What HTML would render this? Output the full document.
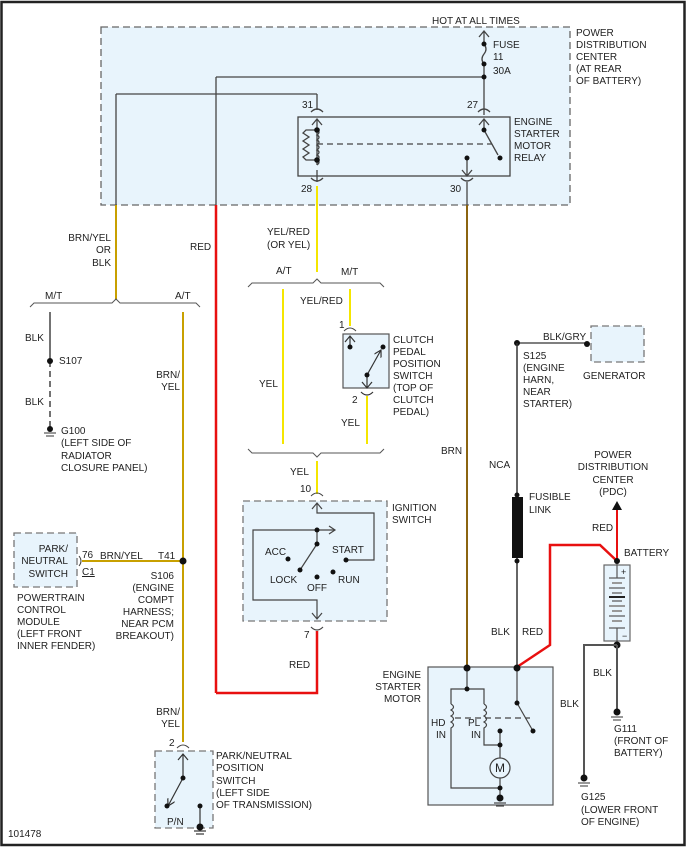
<!DOCTYPE html>
<html><head><meta charset="utf-8"><style>
html,body{margin:0;padding:0;background:#fff;}
svg{display:block;}
text{font-family:"Liberation Sans",sans-serif;font-size:10px;fill:#222;}
</style></head><body>
<svg width="690" height="852" viewBox="0 0 690 852" xmlns="http://www.w3.org/2000/svg">
<defs>
<marker id="ar" markerWidth="8" markerHeight="8" refX="7" refY="4" orient="auto" markerUnits="userSpaceOnUse"><path d="M0,0 L7,4 L0,8" fill="none" stroke="#333" stroke-width="1.2"/></marker>
</defs>
<rect x="1.5" y="2" width="683" height="843" fill="none" stroke="#222" stroke-width="2.5"/>

<!-- PDC box -->
<rect x="101" y="27" width="469" height="178" fill="#e8f4fc" stroke="#666" stroke-width="1.3" stroke-dasharray="7,4"/>
<text x="432" y="24">HOT AT ALL TIMES</text>
<g stroke="#444" stroke-width="1.3" fill="none">
<line x1="484" y1="32" x2="484" y2="44"/>
<path d="M479,37 L484,31 L489,37"/>
<path d="M484,44 q4,5 0,10 q-4,5 0,10"/>
<line x1="484" y1="64" x2="484" y2="115"/>
<line x1="216" y1="77" x2="484" y2="77"/>
<line x1="216" y1="77" x2="216" y2="205"/>
<line x1="116" y1="94" x2="317" y2="94"/>
<line x1="116" y1="94" x2="116" y2="205"/>
<line x1="317" y1="94" x2="317" y2="110"/>
<path d="M311,112 q6,-6 12,0"/><path d="M478,112 q6,-6 12,0"/>
<rect x="298" y="117" width="212" height="59" fill="none"/>
<line x1="317" y1="120" x2="317" y2="165"/>
<path d="M312,125 L317,119 L322,125"/>
<path d="M484,120 L484,130"/><path d="M479,125 L484,119 L489,125"/>
<path d="M317,130 H306 L303,133 L309,137 L303,141 L309,145 L303,149 L309,153 L303,157 L306,160 H317"/>
<path d="M317,130 q4,2 0,5 q4,2 0,5 q4,2 0,5 q4,2 0,5 q4,2 0,5 q4,2 0,5 q4,2 0,5"/>
<line x1="317" y1="144" x2="492" y2="144" stroke-dasharray="6,4"/>
<line x1="484" y1="130" x2="498" y2="155"/>
<line x1="467" y1="158" x2="467" y2="175"/><path d="M462,170 L467,176 L472,170"/>
<path d="M311,178 q6,6 12,0"/><path d="M461,178 q6,6 12,0"/>
<line x1="317" y1="170" x2="317" y2="182"/>
<line x1="467" y1="182" x2="467" y2="205"/>
</g>
<g fill="#111"><circle cx="484" cy="44" r="2.5"/><circle cx="484" cy="64" r="2.5"/><circle cx="484" cy="77" r="2.5"/><circle cx="317" cy="130" r="2.8"/><circle cx="317" cy="160" r="2.8"/><circle cx="484" cy="130" r="2.5"/><circle cx="500" cy="158" r="2.5"/><circle cx="467" cy="158" r="2.5"/></g>
<text x="493" y="48">FUSE</text><text x="493" y="60">11</text><text x="493" y="74">30A</text>
<text x="302" y="108">31</text><text x="467" y="108">27</text><text x="301" y="192">28</text><text x="450" y="192">30</text>
<text x="514" y="125">ENGINE</text><text x="514" y="137">STARTER</text><text x="514" y="149">MOTOR</text><text x="514" y="161">RELAY</text>
<text x="576" y="36">POWER</text><text x="576" y="48">DISTRIBUTION</text><text x="576" y="60">CENTER</text><text x="576" y="72">(AT REAR</text><text x="576" y="84">OF BATTERY)</text>

<!-- left wires -->
<line x1="116" y1="205" x2="116" y2="300" stroke="#c8a000" stroke-width="2"/>
<text x="111" y="241" text-anchor="end">BRN/YEL</text><text x="111" y="253" text-anchor="end">OR</text><text x="111" y="266" text-anchor="end">BLK</text>
<path d="M30,307 L34,303 H112 L116,299 L120,303 H196 L200,307" fill="none" stroke="#555" stroke-width="1"/>
<text x="45" y="299">M/T</text><text x="175" y="299">A/T</text>
<line x1="50" y1="312" x2="50" y2="361" stroke="#444" stroke-width="1.5"/>
<line x1="50" y1="361" x2="50" y2="428" stroke="#444" stroke-width="1.5" stroke-dasharray="6,4"/>
<circle cx="50" cy="361" r="3" fill="#111"/><circle cx="50" cy="429" r="3" fill="#111"/>
<line x1="44" y1="433" x2="56" y2="433" stroke="#333"/><line x1="46" y1="436" x2="54" y2="436" stroke="#333"/>
<text x="25" y="341">BLK</text><text x="59" y="364">S107</text><text x="25" y="405">BLK</text>
<text x="61" y="434">G100</text><text x="61" y="446">(LEFT SIDE OF</text><text x="61" y="459">RADIATOR</text><text x="61" y="471">CLOSURE PANEL)</text>

<line x1="183" y1="312" x2="183" y2="742" stroke="#c8a000" stroke-width="2"/>
<text x="180" y="378" text-anchor="end">BRN/</text><text x="180" y="390" text-anchor="end">YEL</text>
<line x1="216" y1="205" x2="216" y2="693" stroke="#e81010" stroke-width="2.5"/>
<text x="190" y="250">RED</text>
<polyline points="216,693 317,693 317,631" fill="none" stroke="#e81010" stroke-width="2.5"/>
<text x="289" y="668">RED</text>

<!-- PCM -->
<rect x="14" y="533" width="63" height="54" fill="#e8f4fc" stroke="#777" stroke-width="1.3" stroke-dasharray="7,4"/>
<text x="68" y="552" text-anchor="end">PARK/</text><text x="68" y="564" text-anchor="end">NEUTRAL</text><text x="68" y="577" text-anchor="end">SWITCH</text>
<line x1="82" y1="561" x2="183" y2="561" stroke="#c8a000" stroke-width="2"/>
<path d="M79,556 q4,5 0,10" fill="none" stroke="#444"/>
<circle cx="183" cy="561" r="3.5" fill="#111"/>
<text x="82" y="558">76</text><text x="100" y="559">BRN/YEL</text><text x="158" y="559">T41</text><text x="82" y="575" text-decoration="underline">C1</text>
<text x="174" y="579" text-anchor="end">S106</text><text x="174" y="591" text-anchor="end">(ENGINE</text><text x="174" y="603" text-anchor="end">COMPT</text><text x="174" y="615" text-anchor="end">HARNESS;</text><text x="174" y="627" text-anchor="end">NEAR PCM</text><text x="174" y="639" text-anchor="end">BREAKOUT)</text>
<text x="17" y="601">POWERTRAIN</text><text x="17" y="613">CONTROL</text><text x="17" y="625">MODULE</text><text x="17" y="637">(LEFT FRONT</text><text x="17" y="649">INNER FENDER)</text>

<!-- P/N switch -->
<text x="180" y="715" text-anchor="end">BRN/</text><text x="180" y="727" text-anchor="end">YEL</text>
<text x="169" y="746">2</text>
<path d="M177,748 q6,-6 12,0" fill="none" stroke="#444"/>
<rect x="155" y="751" width="58" height="77" fill="#e8f4fc" stroke="#777" stroke-width="1.3" stroke-dasharray="7,4"/>
<g stroke="#333" stroke-width="1.2" fill="none">
<line x1="183" y1="754" x2="183" y2="778"/><path d="M178,760 L183,754 L188,760"/>
<line x1="183" y1="778" x2="168" y2="806" marker-end="url(#ar)"/>
<line x1="200" y1="806" x2="200" y2="826"/>
<line x1="194" y1="831" x2="206" y2="831"/><line x1="196" y1="834" x2="204" y2="834"/>
</g>
<circle cx="183" cy="778" r="2.5" fill="#111"/><circle cx="167" cy="806" r="2.5" fill="#111"/><circle cx="200" cy="806" r="2.5" fill="#111"/><circle cx="200" cy="827" r="3.5" fill="#111"/>
<text x="167" y="825">P/N</text>
<text x="216" y="759">PARK/NEUTRAL</text><text x="216" y="771">POSITION</text><text x="216" y="784">SWITCH</text><text x="216" y="796">(LEFT SIDE</text><text x="216" y="808">OF TRANSMISSION)</text>
<text x="8" y="837">101478</text>

<!-- middle -->
<line x1="317" y1="186" x2="317" y2="272" stroke="#f5e600" stroke-width="2"/>
<text x="267" y="235">YEL/RED</text><text x="267" y="248">(OR YEL)</text>
<path d="M248,287 L252,283 H313 L317,279 L321,283 H380 L384,287" fill="none" stroke="#555"/>
<text x="276" y="274">A/T</text><text x="341" y="275">M/T</text>
<line x1="283" y1="289" x2="283" y2="444" stroke="#f5e600" stroke-width="2"/>
<text x="259" y="387">YEL</text>
<line x1="350" y1="289" x2="350" y2="326" stroke="#f5e600" stroke-width="2"/>
<text x="300" y="304">YEL/RED</text>
<text x="339" y="328">1</text>
<path d="M344,331 q6,-6 12,0" fill="none" stroke="#444"/>
<rect x="343" y="334" width="46" height="54" fill="#e8f4fc" stroke="#555" stroke-width="1.2"/>
<g stroke="#333" stroke-width="1.2" fill="none">
<line x1="350" y1="337" x2="350" y2="347"/><path d="M345,342 L350,336 L355,342"/>
<line x1="367" y1="375" x2="381" y2="350" marker-end="url(#ar)"/>
<line x1="367" y1="375" x2="367" y2="387"/><path d="M362,382 L367,388 L372,382"/>
<path d="M361,392 q6,6 12,0"/>
</g>
<circle cx="350" cy="347" r="2.5" fill="#111"/><circle cx="383" cy="347" r="2.5" fill="#111"/><circle cx="367" cy="375" r="2.5" fill="#111"/>
<text x="352" y="403">2</text>
<line x1="367" y1="396" x2="367" y2="444" stroke="#f5e600" stroke-width="2"/>
<text x="341" y="426">YEL</text>
<text x="393" y="343">CLUTCH</text><text x="393" y="355">PEDAL</text><text x="393" y="367">POSITION</text><text x="393" y="379">SWITCH</text><text x="393" y="391">(TOP OF</text><text x="393" y="403">CLUTCH</text><text x="393" y="415">PEDAL)</text>
<path d="M248,449 L252,453 H313 L317,457 L321,453 H380 L384,449" fill="none" stroke="#555"/>
<text x="290" y="475">YEL</text>
<line x1="317" y1="461" x2="317" y2="494" stroke="#f5e600" stroke-width="2"/>
<text x="300" y="492">10</text>
<path d="M311,496 q6,-6 12,0" fill="none" stroke="#444"/>

<!-- Ignition -->
<rect x="243" y="501" width="144" height="120" fill="#e8f4fc" stroke="#777" stroke-width="1.3" stroke-dasharray="7,4"/>
<text x="392" y="511">IGNITION</text><text x="392" y="523">SWITCH</text>
<g stroke="#444" stroke-width="1.2" fill="none">
<path d="M317,504 V513 H374 V560 H346"/><path d="M312,509 L317,503 L322,509"/>
<path d="M335,530 H253 V600 H317 V619"/><path d="M329,526 L335,530 L329,534"/><path d="M312,613 L317,619 L322,613"/>
<line x1="317" y1="530" x2="317" y2="544"/><line x1="317" y1="544" x2="300" y2="570"/>
<path d="M311,627 q6,6 12,0"/>
</g>
<g fill="#111"><circle cx="317" cy="530" r="2.5"/><circle cx="317" cy="544" r="2.5"/><circle cx="300" cy="570" r="2.5"/><circle cx="288" cy="559" r="2.5"/><circle cx="317" cy="577" r="2.5"/><circle cx="333" cy="572" r="2.5"/><circle cx="346" cy="560" r="2.5"/></g>
<text x="265" y="555">ACC</text><text x="332" y="553">START</text><text x="270" y="583">LOCK</text><text x="307" y="591">OFF</text><text x="338" y="583">RUN</text>
<text x="304" y="638">7</text>

<!-- right -->
<line x1="467" y1="205" x2="467" y2="668" stroke="#8b6410" stroke-width="2"/>
<text x="441" y="454">BRN</text>
<line x1="517" y1="343" x2="587" y2="343" stroke="#555" stroke-width="1.5"/>
<circle cx="517" cy="343" r="3" fill="#111"/><circle cx="587" cy="344" r="3" fill="#111"/>
<text x="543" y="340">BLK/GRY</text>
<rect x="591" y="326" width="53" height="36" fill="#e8f4fc" stroke="#777" stroke-width="1.3" stroke-dasharray="7,4"/>
<text x="583" y="379">GENERATOR</text>
<text x="523" y="359">S125</text><text x="523" y="371">(ENGINE</text><text x="523" y="383">HARN,</text><text x="523" y="395">NEAR</text><text x="523" y="407">STARTER)</text>
<line x1="517" y1="343" x2="517" y2="668" stroke="#333" stroke-width="1.5"/>
<text x="489" y="468">NCA</text>
<rect x="512" y="497" width="11" height="61" fill="#111"/>
<circle cx="517" cy="495" r="2.5" fill="#111"/><circle cx="517" cy="561" r="2.5" fill="#111"/>
<text x="529" y="500">FUSIBLE</text><text x="529" y="513">LINK</text>
<text x="491" y="635">BLK</text><text x="522" y="635">RED</text>
<polyline points="517,667 550,645 550,545 600,545 617,561" fill="none" stroke="#e81010" stroke-width="2.5"/>
<line x1="617" y1="561" x2="617" y2="510" stroke="#e81010" stroke-width="2"/>
<path d="M612,510 L617,501 L622,510 Z" fill="#111"/>
<text x="613" y="458" text-anchor="middle">POWER</text><text x="613" y="470" text-anchor="middle">DISTRIBUTION</text><text x="613" y="483" text-anchor="middle">CENTER</text><text x="613" y="495" text-anchor="middle">(PDC)</text>
<text x="592" y="531">RED</text><text x="624" y="556">BATTERY</text>
<rect x="604" y="565" width="26" height="76" fill="#e8f4fc" stroke="#666" stroke-width="1.2"/>
<g stroke="#555" stroke-width="1.2">
<line x1="617" y1="562" x2="617" y2="578"/><line x1="617" y1="628" x2="617" y2="645"/>
<line x1="609" y1="578" x2="625" y2="578"/><line x1="612" y1="583" x2="622" y2="583" stroke="#999" stroke-width="2"/>
<line x1="609" y1="588" x2="625" y2="588"/><line x1="612" y1="593" x2="622" y2="593"/>
<line x1="609" y1="597" x2="625" y2="597" stroke="#222" stroke-width="2"/><line x1="612" y1="601" x2="622" y2="601"/>
<line x1="609" y1="606" x2="625" y2="606" stroke="#999" stroke-width="2"/><line x1="612" y1="611" x2="622" y2="611" stroke="#999" stroke-width="2"/>
<line x1="609" y1="616" x2="625" y2="616"/><line x1="612" y1="621" x2="622" y2="621" stroke="#999" stroke-width="2"/>
<line x1="609" y1="628" x2="625" y2="628"/>
</g>
<text x="621" y="575" style="font-size:9px">+</text><text x="622" y="639" style="font-size:9px">−</text>
<circle cx="617" cy="561" r="3" fill="#111"/><circle cx="617" cy="645" r="3.5" fill="#111"/>
<polyline points="617,645 617,710" fill="none" stroke="#555" stroke-width="2"/>
<polyline points="617,645 584,645 584,776" fill="none" stroke="#555" stroke-width="2"/>
<circle cx="617" cy="712" r="3.5" fill="#111"/><circle cx="584" cy="778" r="3.5" fill="#111"/>
<g stroke="#333"><line x1="611" y1="717" x2="623" y2="717"/><line x1="613" y1="720" x2="621" y2="720"/><line x1="578" y1="783" x2="590" y2="783"/><line x1="580" y1="786" x2="588" y2="786"/></g>
<text x="593" y="676">BLK</text><text x="560" y="707">BLK</text>
<text x="614" y="732">G111</text><text x="614" y="744">(FRONT OF</text><text x="614" y="756">BATTERY)</text>
<text x="581" y="800">G125</text><text x="581" y="813">(LOWER FRONT</text><text x="581" y="825">OF ENGINE)</text>

<!-- starter motor -->
<text x="421" y="678" text-anchor="end">ENGINE</text><text x="421" y="690" text-anchor="end">STARTER</text><text x="421" y="702" text-anchor="end">MOTOR</text>
<rect x="428" y="667" width="125" height="138" fill="#e8f4fc" stroke="#555" stroke-width="1.2"/>
<g stroke="#444" stroke-width="1.2" fill="none">
<line x1="467" y1="668" x2="467" y2="689"/>
<path d="M451,704 V689 H484 V704"/>
<path d="M451,704 q5,3 0,6 q5,3 0,6 q5,3 0,6 q5,3 0,6 V788 H500"/>
<path d="M484,704 q5,3 0,6 q5,3 0,6 q5,3 0,6 q5,3 0,6 V745 H500"/>
<line x1="455" y1="718" x2="530" y2="718" stroke-dasharray="6,4"/>
<line x1="517" y1="668" x2="517" y2="703"/><line x1="517" y1="703" x2="533" y2="731"/>
<line x1="500" y1="731" x2="500" y2="758"/><line x1="500" y1="778" x2="500" y2="797"/>
<circle cx="500" cy="768" r="10"/>
<line x1="494" y1="803" x2="506" y2="803"/><line x1="496" y1="806" x2="504" y2="806"/>
</g>
<text x="500" y="772" text-anchor="middle" style="font-size:12px">M</text>
<g fill="#111"><circle cx="467" cy="668" r="3.5"/><circle cx="517" cy="668" r="3.5"/><circle cx="467" cy="689" r="2.5"/><circle cx="517" cy="703" r="2.5"/><circle cx="533" cy="731" r="2.5"/><circle cx="500" cy="731" r="2.5"/><circle cx="500" cy="745" r="2.5"/><circle cx="500" cy="788" r="2.5"/><circle cx="500" cy="798" r="3.5"/></g>
<text x="431" y="726">HD</text><text x="436" y="738">IN</text><text x="468" y="726">PL</text><text x="471" y="738">IN</text>
</svg>
</body></html>
